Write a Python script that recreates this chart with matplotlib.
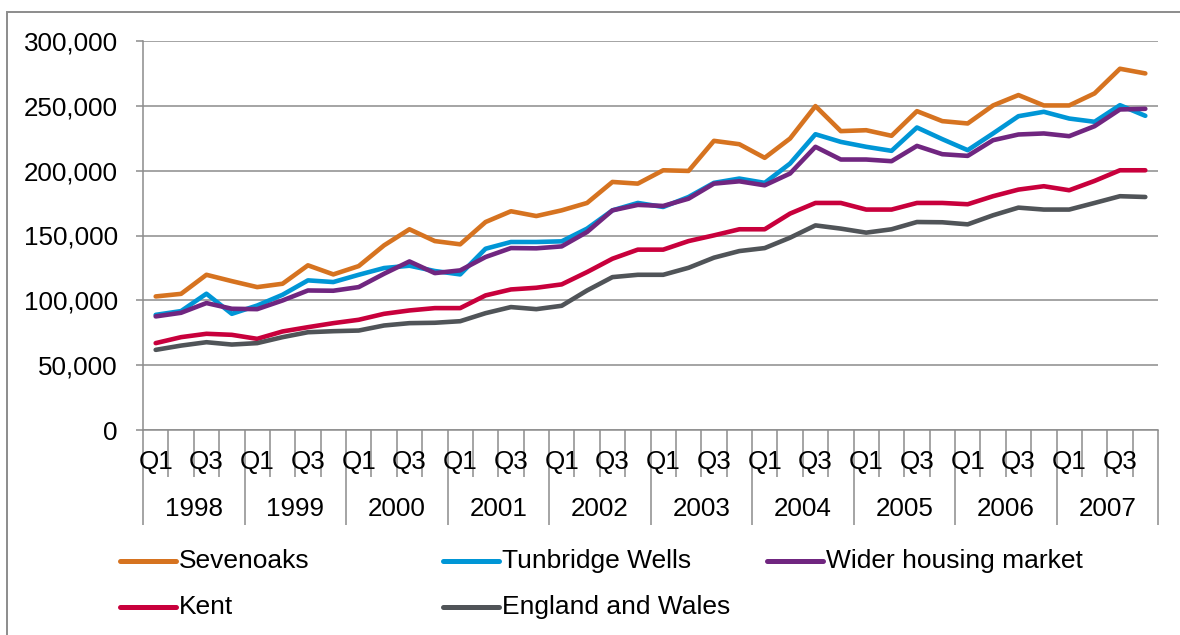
import matplotlib
matplotlib.use("Agg")
import matplotlib.pyplot as plt
from matplotlib.lines import Line2D
from matplotlib.patches import Rectangle
from matplotlib.ticker import FuncFormatter, MultipleLocator

# Average house prices by quarter, 1998 Q1 - 2007 Q4
years = ["1998", "1999", "2000", "2001", "2002", "2003", "2004", "2005", "2006", "2007"]
quarters = ["Q1", "Q2", "Q3", "Q4"]

sevenoaks = [103000, 105000, 119700, 114800, 110200, 112800, 127000, 120000,
             126400, 142400, 154800, 145700, 143200, 160400, 168700, 165000,
             169400, 175100, 191300, 190000, 200300, 199800, 223000, 220400,
             209900, 224800, 249800, 230500, 231200, 226900, 245900, 238200,
             236400, 250300, 258300, 250300, 250300, 259600, 278600, 275000]
tunbridge_wells = [88800, 91700, 105100, 89600, 96000, 104300, 115400, 114100,
                   119700, 124900, 126700, 122600, 120000, 139800, 145000, 145000,
                   145500, 155300, 169400, 175100, 172000, 179700, 190600, 193900,
                   190600, 205500, 228100, 222200, 218400, 215300, 233300, 224300,
                   215800, 228700, 242000, 245400, 240200, 237700, 250500, 242300]
wider_market = [87600, 90400, 97900, 93500, 93200, 99900, 107600, 107400,
                110200, 120500, 130000, 121000, 123100, 133400, 140300, 140100,
                141600, 152700, 169400, 173600, 172800, 178400, 190000, 191800,
                188700, 197800, 218400, 208600, 208600, 207300, 219100, 212700,
                211400, 223500, 227900, 228700, 226600, 234300, 247200, 247700]
kent = [67000, 71600, 74200, 73400, 70300, 76000, 79300, 82400,
        85000, 89600, 92200, 94000, 94000, 103800, 108400, 109700,
        112300, 121800, 132100, 139100, 139100, 145700, 150100, 154800,
        154800, 166900, 175100, 175100, 170000, 170000, 175100, 175100,
        174100, 180300, 185400, 188000, 184900, 192100, 200300, 200300]
england_wales = [61800, 65100, 67700, 65900, 67000, 71600, 75400, 76200,
                 76700, 80600, 82400, 82700, 83900, 90100, 94800, 93200,
                 95800, 107600, 117900, 119700, 119700, 125100, 132900, 138000,
                 140300, 148300, 157800, 155300, 152200, 154800, 160400, 160200,
                 158600, 165600, 171500, 170000, 170000, 175100, 180300, 179700]

series_names = ["Sevenoaks", "Tunbridge Wells", "Wider housing market", "Kent", "England and Wales"]
series_values = [sevenoaks, tunbridge_wells, wider_market, kent, england_wales]
series_colors = ["#D67320", "#0096D6", "#702680", "#C8003C", "#505458"]

GRID = "#8C8C8C"
W, H = 1180, 635
plt.rcParams["font.family"] = ["Liberation Sans", "DejaVu Sans"]
plt.rcParams["font.size"] = 18.7

fig = plt.figure(figsize=(W / 100, H / 100), dpi=100)
fig.patch.set_facecolor("white")

# outer chart frame (only its left and top edges fall inside the image)
fig.add_artist(Rectangle((7 / W, -0.2), 1.3, 1.2 - 12 / H, transform=fig.transFigure,
                         fill=False, edgecolor=GRID, linewidth=1.4))

left, right, bottom, top = 143, 1158, 430, 41
ax = fig.add_axes([left / W, 1 - bottom / H, (right - left) / W, (bottom - top) / H])

n = len(sevenoaks)
xpos = [i + 0.5 for i in range(n)]
for name, vals, col in zip(series_names, series_values, series_colors):
    ax.plot(xpos, vals, color=col, linewidth=3.3, solid_joinstyle="round",
            solid_capstyle="round", zorder=3, clip_on=False)

ax.set_xlim(0, n)
ax.set_ylim(0, 300000)
ax.yaxis.set_major_locator(MultipleLocator(50000))
ax.yaxis.set_major_formatter(FuncFormatter(lambda v, p: f"{v:,.0f}"))
ax.grid(axis="y", color=GRID, linewidth=1.1, zorder=0)
ax.set_axisbelow(True)

for s in ("top", "right"):
    ax.spines[s].set_visible(False)
for s in ("left", "bottom"):
    ax.spines[s].set_color(GRID)
    ax.spines[s].set_linewidth(1.1)

ax.tick_params(axis="y", direction="out", length=5, width=1.1, color=GRID, pad=13)

# two-level category axis: quarter ticks and longer year separators
ax.set_xticks(range(0, n + 1, 4))
ax.set_xticks(range(n + 1), minor=True)
ax.tick_params(axis="x", which="major", direction="out", length=68.4, width=1.1,
               color=GRID, labelbottom=False)
ax.tick_params(axis="x", which="minor", direction="out", length=33.8, width=1.1,
               color=GRID, labelbottom=False)

axh = bottom - top
for i in range(n):
    q = quarters[i % 4]
    if q in ("Q1", "Q3"):
        ax.text(i + 0.5, -31.5 / axh, q, transform=ax.get_xaxis_transform(),
                ha="center", va="center")
for k, y in enumerate(years):
    ax.text(4 * k + 2, -79 / axh, y, transform=ax.get_xaxis_transform(),
            ha="center", va="center")

# legend laid out in rows, as in the source sheet
legend_slots = [(120, 561), (443, 561), (767, 561), (120, 607), (443, 607)]
for (x0, yc), name, col in zip(legend_slots, series_names, series_colors):
    fy = 1 - yc / H
    fig.add_artist(Line2D([x0 / W, (x0 + 56) / W], [fy, fy], transform=fig.transFigure,
                          color=col, linewidth=3.6, solid_capstyle="round"))
    fig.text((x0 + 59) / W, fy, name, ha="left", va="center", fontsize=19)

fig.savefig("out.png", dpi=100)
